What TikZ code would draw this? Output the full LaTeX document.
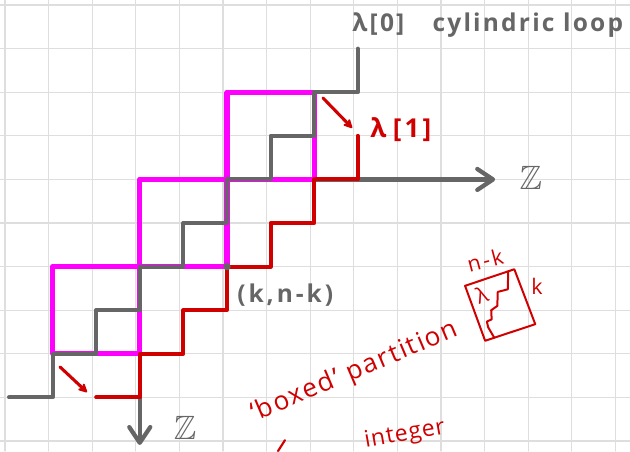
\documentclass[tikz,border=0pt]{standalone}
\usepackage{amsmath,amssymb}
\usepackage{fontspec}
\newfontfamily\hand[LetterSpace=12]{Open Sans}
\usetikzlibrary{arrows.meta}

\definecolor{gridgray}{RGB}{222,222,222}
\definecolor{pengray}{RGB}{102,102,102}
\definecolor{penpink}{RGB}{255,0,255}
\definecolor{penred}{RGB}{208,0,0}

\begin{document}
\begin{tikzpicture}[line cap=round, line join=round,
    gridline/.style={gridgray, line width=0.8pt},
    axisline/.style={pengray, line width=2.8pt, -{Straight Barb[length=3.6mm,width=4.8mm,round]}},
    boxpink/.style={penpink, line width=3.3pt},
    loopgray/.style={pengray, line width=2.6pt},
    loopred/.style={penred, line width=2.6pt},
    shiftarrow/.style={penred, line width=2pt, -{Stealth[length=2.6mm,width=2.6mm,round]}},
    sketch/.style={penred, line width=1.3pt},
    graytext/.style={pengray, font=\hand\bfseries\fontsize{16}{19}\selectfont, inner sep=0pt},
    redtext/.style={penred, font=\hand\fontsize{17}{20}\selectfont\addfontfeature{LetterSpace=7}, inner sep=0pt},
    redsmall/.style={penred, font=\hand\fontsize{14}{16}\selectfont, inner sep=0pt},
    zlabel/.style={pengray, font=\fontsize{22}{25}\selectfont, inner sep=0pt}]
    \useasboundingbox (-0.206,0.115) rectangle (14.243,-10.229);
    \draw[gridline, xshift=-0.092cm] (-0.114,0.115) grid (14.335,-10.229);

    \coordinate (O)    at (3,-4);
    \coordinate (xend) at (11.15,-4);
    \coordinate (yend) at (3,-10.09);

    % axes
    \draw[axisline] (O) -- (xend);
    \draw[axisline] (O) -- (yend);

    % boxes of the loop
    \foreach \i in {0,1,2}
        \draw[boxpink] (1+2*\i,-8+2*\i) rectangle ++(2,2);

    % lambda[0] and lambda[1]
    \draw[loopgray] (0,-9) \foreach \i in {1,...,8} { -| (\i,{\i-9}) };
    \draw[loopred] (2,-9) \foreach \i in {3,...,8} { -| (\i,{\i-11}) };

    \node[circle, fill=pengray, inner sep=0pt, minimum size=1.7mm] (kpt) at (5,-6) {};

    \coordinate (s0) at (7.20,-2.13);
    \coordinate (s1) at (7.87,-2.82);
    \coordinate (t0) at (1.17,-8.30);
    \coordinate (t1) at (1.79,-8.88);
    \draw[shiftarrow] (s0) -- (s1);
    \draw[shiftarrow] (t0) -- (t1);

    \node[graytext, font=\hand\bfseries\fontsize{16}{19}\selectfont\addfontfeature{LetterSpace=9},
        anchor=base west] (title) at (7.87,-0.60) {λ[0]\hspace{0.8em} cylindric loop};
    \node[redtext, font=\hand\bfseries\fontsize{17}{20}\selectfont, anchor=base west] (lamone)
        at (8.28,-3.03) {λ\hspace{0.25em}[1]};
    \node[zlabel] (zh) at (11.97,-3.97) {$\mathbb{Z}$};
    \node[zlabel] (zv) at (4.04,-9.70) {$\mathbb{Z}$};
    \node[graytext, anchor=base west] (kpos) at (5.23,-6.83) {(k,n-k)};

    \node[redtext, rotate=23] (boxed) at (7.93,-8.42) {‘boxed’ partition};
    \node[redtext, font=\hand\fontsize{15}{18}\selectfont\addfontfeature{LetterSpace=4}, rotate=10]
        (integer) at (9.08,-9.86) {integer};
    \draw[penred, line width=1.4pt] (6.17,-10.23) -- (6.33,-9.98);

    % small box picture
    \draw[sketch] (10.46,-6.44) -- (11.59,-6.06) -- (12.07,-7.32) -- (10.92,-7.70) -- cycle;
    \draw[sketch] (11.45,-6.11) -- (11.44,-6.52) -- (11.21,-6.58) -- (11.20,-6.90)
        -- (11.06,-7.00) -- (11.07,-7.21) -- (10.96,-7.26) -- (10.99,-7.39) -- (11.13,-7.63);
    \node[redsmall, rotate=15] (nk) at (10.92,-5.85) {n-k};
    \node[redsmall] (ks) at (12.11,-6.46) {k};
    \node[redsmall, rotate=20] (lam) at (10.84,-6.65) {λ};
\end{tikzpicture}
\end{document}
